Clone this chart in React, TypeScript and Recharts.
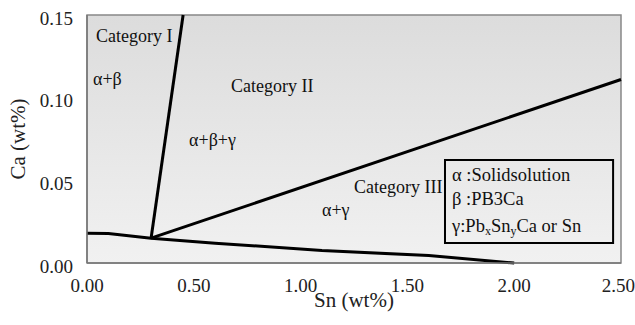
import React from 'react';
import { LineChart, Line, XAxis, YAxis, CartesianGrid, ReferenceArea, ReferenceDot, Label } from 'recharts';

// phase boundaries (Sn wt%, Ca wt%)
const boundaryASn = [0.30, 0.45];
const boundaryACa = [0.015, 0.15];
const boundaryBSn = [0.30, 2.50];
const boundaryBCa = [0.015, 0.111];
const boundaryCSn = [0, 0.1, 0.30, 0.60, 1.10, 1.60, 2.00];
const boundaryCCa = [0.018, 0.0178, 0.015, 0.012, 0.0075, 0.0045, 0];

const xTicks = [0, 0.5, 1.0, 1.5, 2.0, 2.5];
const yTicks = [0, 0.05, 0.10, 0.15];
const xMinorTicks = [0.1, 0.2, 0.3, 0.4, 0.5, 0.6, 0.7, 0.8, 0.9, 1.0, 1.1, 1.2, 1.3, 1.4, 1.5, 1.6, 1.7, 1.8, 1.9, 2.0, 2.1, 2.2, 2.3, 2.4];
const yMinorTicks = [0.01, 0.02, 0.03, 0.04, 0.05, 0.06, 0.07, 0.08, 0.09, 0.10, 0.11, 0.12, 0.13, 0.14];

const regionLabels = ['Category I', 'α+β', 'Category II', 'α+β+γ', 'Category III', 'α+γ'];
const regionSn = [0.042, 0.028, 0.674, 0.478, 1.25, 1.10];
const regionCa = [0.137, 0.111, 0.107, 0.0744, 0.046, 0.032];

const legendSn = 1.709;
const legendCa = [0.0532, 0.0387, 0.0224];

const toPoints = (xs: number[], ys: number[]) => xs.map((x, i) => ({ x, y: ys[i] }));

const FONT = 'Liberation Serif';

const textAt = (content: React.ReactNode, size = 18) => (p: any) => (
  <text x={p.cx} y={p.cy} dominantBaseline="central" fontFamily={FONT} fontSize={size} fill="#111">
    {content}
  </text>
);

const Sub = ({ children }: { children: string }) => (
  <tspan fontSize={12} dy={5}>{children}</tspan>
);

const legendRows: React.ReactNode[] = [
  <>α :Solidsolution</>,
  <>β :PB3Ca</>,
  <>γ:Pb<Sub>x</Sub><tspan dy={-5}>Sn</tspan><Sub>y</Sub><tspan dy={-5}>Ca or Sn</tspan></>,
];

export default function App() {
  return (
    <div style={{ position: 'absolute', left: 0, top: 0, background: '#fff', fontFamily: FONT }}>
      <LineChart width={635} height={325} margin={{ top: 15, right: 14, bottom: 32, left: 27 }}>
        <defs>
          <linearGradient id="bg" x1="0" y1="0" x2="0" y2="1">
            <stop offset="0%" stopColor="#dcdcdc" />
            <stop offset="100%" stopColor="#f1f1f1" />
          </linearGradient>
        </defs>
        <CartesianGrid horizontal={false} vertical={false} fill="url(#bg)" />
        <XAxis
          type="number" dataKey="x" domain={[0, 2.5]} ticks={xTicks} height={30}
          tickFormatter={(v: number) => v.toFixed(2)} tickLine={false} tickSize={0} tickMargin={16}
          axisLine={{ stroke: '#777', strokeWidth: 1.5 }}
          tick={{ fontFamily: FONT, fontSize: 19, fill: '#222' }}
        >
          <Label
            content={({ viewBox }: any) => (
              <text x={viewBox.x + viewBox.width / 2} y={viewBox.y + viewBox.height + 14} textAnchor="middle"
                fontFamily={FONT} fontSize={21} fill="#222">Sn (wt%)</text>
            )}
          />
        </XAxis>
        <XAxis
          xAxisId="minor" type="number" dataKey="x" domain={[0, 2.5]} ticks={xMinorTicks} allowDataOverflow
          mirror height={0} tick={false} axisLine={false} tickSize={5} tickLine={{ stroke: '#888' }}
        />
        <YAxis
          type="number" domain={[0, 0.15]} ticks={yTicks} width={60}
          tickFormatter={(v: number) => v.toFixed(2)} tickLine={false} tickSize={0} tickMargin={14}
          axisLine={{ stroke: '#777', strokeWidth: 1.5 }}
          tick={{ fontFamily: FONT, fontSize: 19, fill: '#222', dy: 3 }}
        >
          <Label
            content={({ viewBox }: any) => {
              const cx = 18;
              const cy = viewBox.y + viewBox.height / 2;
              return (
                <text x={cx} y={cy} textAnchor="middle" dominantBaseline="central" transform={`rotate(-90, ${cx}, ${cy})`}
                  fontFamily={FONT} fontSize={21} fill="#222">Ca (wt%)</text>
              );
            }}
          />
        </YAxis>
        <YAxis
          yAxisId="minor" type="number" domain={[0, 0.15]} ticks={yMinorTicks} allowDataOverflow
          mirror width={0} tick={false} axisLine={false} tickSize={5} tickLine={{ stroke: '#888' }}
        />
        <ReferenceArea x1={0} x2={2.5} y1={0} y2={0.15} fill="none" stroke="#888" strokeWidth={1.5} />
        <Line data={toPoints(boundaryASn, boundaryACa)} dataKey="y" stroke="#000" strokeWidth={3} dot={false} isAnimationActive={false} />
        <Line data={toPoints(boundaryBSn, boundaryBCa)} dataKey="y" stroke="#000" strokeWidth={3} dot={false} isAnimationActive={false} />
        <Line data={toPoints(boundaryCSn, boundaryCCa)} dataKey="y" stroke="#000" strokeWidth={3} dot={false} isAnimationActive={false} />
        <ReferenceArea x1={1.676} x2={2.463} y1={0.0121} y2={0.0623} fill="none" stroke="#000" strokeWidth={2} />
        {regionLabels.map((t, i) => (
          <ReferenceDot key={t} x={regionSn[i]} y={regionCa[i]} r={1} shape={textAt(t)} />
        ))}
        {legendRows.map((row, i) => (
          <ReferenceDot key={i} x={legendSn} y={legendCa[i]} r={1} shape={textAt(row, 18.5)} />
        ))}
      </LineChart>
    </div>
  );
}
